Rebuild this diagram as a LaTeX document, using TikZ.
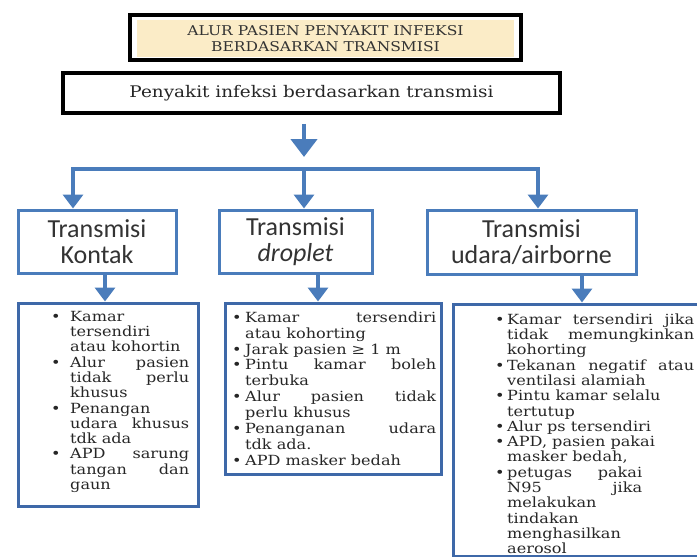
\documentclass[tikz,border=0pt]{standalone}
\usepackage{fontspec}
\setmainfont{DejaVu Serif}
\newfontfamily\bodyfont[FakeStretch=1.15]{DejaVu Serif}
\newfontfamily\headfont{Carlito}
\usetikzlibrary{arrows.meta}

\definecolor{flowblue}{RGB}{74,124,187}
\definecolor{boxblue}{RGB}{62,104,168}
\definecolor{titlefill}{RGB}{251,236,199}

% bullet list helpers: \bw = indent after the bullet, \rw = width of a justified line
\newlength\bw
\newlength\rw
\newcommand\bfirst[1]{\makebox[\bw][l]{\textbullet}#1}
\newcommand\bfirstj[1]{\makebox[\bw][l]{\textbullet}\makebox[\rw][s]{#1}}
\newcommand\bcont[1]{\hspace*{\bw}#1}
\newcommand\bcontj[1]{\hspace*{\bw}\makebox[\rw][s]{#1}}
\newcommand\firststrut{\rule{0pt}{11pt}}

\tikzset{
  flow/.style={draw=flowblue, line width=4.5pt, -{Triangle[length=14pt,width=20pt]}},
  headbox/.style={draw=flowblue, line width=3pt, fill=white, inner sep=0pt, align=center,
    font=\headfont\fontsize{26}{26}\selectfont, text=black!80},
  listbox/.style={draw=boxblue, line width=3pt, inner sep=0pt},
  listtext/.style={anchor=north west, inner sep=0pt, align=left,
    font=\bodyfont\fontsize{14}{15.3}\selectfont, text=black!85},
}

\begin{document}
\begin{tikzpicture}[x=1pt,y=-1pt]
\useasboundingbox (0,0) rectangle (697,557);
\clip (0,0) rectangle (697,557);

% heading
\node[draw=black, line width=4pt, minimum width=391pt, minimum height=45pt, inner sep=0pt]
  (titleframe) at (325.5,37.5) {};
\node[fill=titlefill, minimum width=377pt, minimum height=37pt, inner sep=0pt, align=center,
  font=\bodyfont\fontsize{13.5}{16}\selectfont, text=black!80]
  (title) at (325.5,38.5) {ALUR PASIEN PENYAKIT INFEKSI\\BERDASARKAN TRANSMISI};

% main box
\node[draw=black, line width=3.5pt, minimum width=497pt, minimum height=40pt, inner sep=0pt,
  font=\bodyfont\fontsize{16}{18}\selectfont, text=black!85]
  (pk) at (311.5,93) {Penyakit infeksi berdasarkan transmisi};

% transmission types
\node[headbox, minimum width=158pt, minimum height=63pt] (h1) at (97,241.5) {Transmisi\\Kontak};
\node[headbox, minimum width=153pt, minimum height=63pt] (h2) at (295.5,241.5) {Transmisi\\\textit{droplet}};
\node[headbox, minimum width=209pt, minimum height=64pt] (h3) at (531.5,242) {Transmisi\\udara/airborne};

% list frames
\node[listbox, minimum width=180pt, minimum height=203pt] (b1) at (108,404.5) {};
\node[listbox, minimum width=216pt, minimum height=171pt] (b2) at (333,388.5) {};
\node[listbox, minimum width=257pt, minimum height=252pt] (b3) at (581.5,430) {};

% list texts
\setlength\bw{19pt}\setlength\rw{119pt}
\node[listtext] (t1) at (51,310) {\firststrut\bfirst{Kamar}\\
\bcont{tersendiri}\\
\bcont{atau kohortin}\\
\bfirstj{Alur pasien}\\
\bcontj{tidak perlu}\\
\bcont{khusus}\\
\bfirst{Penangan}\\
\bcontj{udara khusus}\\
\bcont{tdk ada}\\
\bfirstj{APD sarung}\\
\bcontj{tangan dan}\\
\bcont{gaun}};

\setlength\bw{13pt}\setlength\rw{191pt}
\node[listtext, font=\bodyfont\fontsize{14}{15.9}\selectfont] (t2) at (232,311) {\firststrut\bfirstj{Kamar tersendiri}\\
\bcont{atau kohorting}\\
\bfirst{Jarak pasien ≥ 1 m}\\
\bfirstj{Pintu kamar boleh}\\
\bcont{terbuka}\\
\bfirstj{Alur pasien tidak}\\
\bcont{perlu khusus}\\
\bfirstj{Penanganan udara}\\
\bcont{tdk ada.}\\
\bfirst{APD masker bedah}};

\setlength\bw{12pt}\setlength\rw{187pt}
\node[listtext] (t3) at (495,313) {\firststrut\bfirstj{Kamar tersendiri jika}\\
\bcontj{tidak memungkinkan}\\
\bcont{kohorting}\\
\bfirstj{Tekanan negatif atau}\\
\bcont{ventilasi alamiah}\\
\bfirst{Pintu kamar selalu}\\
\bcont{tertutup}\\
\bfirst{Alur ps tersendiri}\\
\bfirst{APD, pasien pakai}\\
\bcont{masker bedah,}\\
\bfirst{\makebox[135pt][s]{petugas pakai}}\\
\bcont{\makebox[135pt][s]{N95 jika}}\\
\bcont{melakukan}\\
\bcont{tindakan}\\
\bcont{menghasilkan}\\
\bcont{aerosol}};

% connectors
\coordinate (split) at (304,169);
\coordinate (lx) at (73,169);
\coordinate (rx) at (538,169);
\coordinate (d1) at (105,0);
\coordinate (d2) at (318,0);
\coordinate (d3) at (582,0);

\draw[flow, shorten <=9pt, shorten >=12pt, -{Triangle[length=18pt,width=26pt]}]
  (split |- pk.south) -- (split);
\draw[flow] (split) -| (lx |- h1.north);
\draw[flow] (split) -- (split |- h2.north);
\draw[flow] (split) -| (rx |- h3.north);

\draw[flow] (d1 |- h1.south) -- (d1 |- b1.north);
\draw[flow] (d2 |- h2.south) -- (d2 |- b2.north);
\draw[flow] (d3 |- h3.south) -- (d3 |- b3.north);
\end{tikzpicture}
\end{document}
